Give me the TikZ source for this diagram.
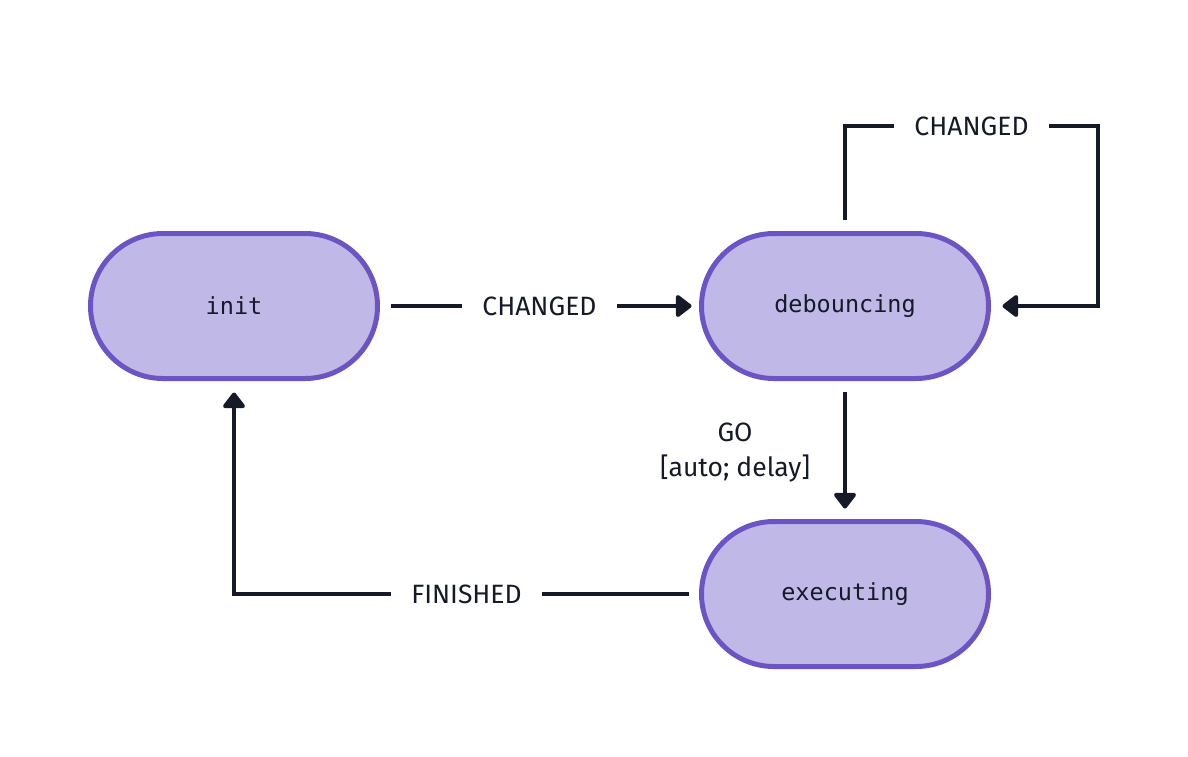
\documentclass[tikz,border=0pt]{standalone}
\usepackage{fontspec}
\setmainfont{Fira Sans}
\setmonofont{DejaVu Sans Mono}
\usetikzlibrary{arrows.meta,shapes.misc}
\definecolor{nodefill}{HTML}{C0B9E7}
\definecolor{nodeline}{HTML}{6C54C4}
\definecolor{ink}{HTML}{141A28}
\tikzset{
  state/.style={rounded rectangle, draw=nodeline, fill=nodefill, line width=5pt,
    minimum width=287pt, minimum height=145pt, inner sep=0pt,
    font=\ttfamily\fontsize{23.5}{28}\selectfont, text=ink},
  edge/.style={draw=ink, line width=4pt, -{Triangle[length=17pt,width=25pt,round]}},
  lbl/.style={fill=white, inner xsep=20pt, inner ysep=4pt, text=ink,
    font=\fontsize{26.5}{35}\selectfont}
}
\begin{document}
\begin{tikzpicture}[x=1pt,y=-1pt]
\useasboundingbox (0,0) rectangle (1188,756);
\node[state] (init) at (234,306) {init};
\node[state] (deb) at (845,306) {debouncing};
\node[state] (exec) at (845,594) {executing};
\coordinate (l1) at (845,126);
\coordinate (l2) at (1098,126);
\coordinate (l3) at (1098,306);
\coordinate (c1) at (234,594);
% init -> debouncing
\draw[edge, shorten <=11pt, shorten >=7.5pt] (init.east) -- node[lbl] (t1) {CHANGED} (deb.west);
% self loop
\draw[edge, shorten <=11.5pt, shorten >=11.5pt, line join=miter] (deb.north) -- (l1) -- node[lbl] (t2) {CHANGED} (l2) -- (l3) -- (deb.east);
% debouncing -> executing
\draw[edge, shorten <=10.5pt, shorten >=10.5pt] (deb.south) -- node[midway, left=33pt, yshift=-3pt, inner sep=0pt, align=center, text=ink, font=\fontsize{26.5}{35}\selectfont] (t3) {GO\\{[auto; delay]}} (exec.north);
% executing -> init
\draw[edge, shorten <=10.5pt, shorten >=11.5pt, line join=miter] (exec.west) -- node[lbl] (t4) {FINISHED} (c1) -- (init.south);
\end{tikzpicture}
\end{document}
